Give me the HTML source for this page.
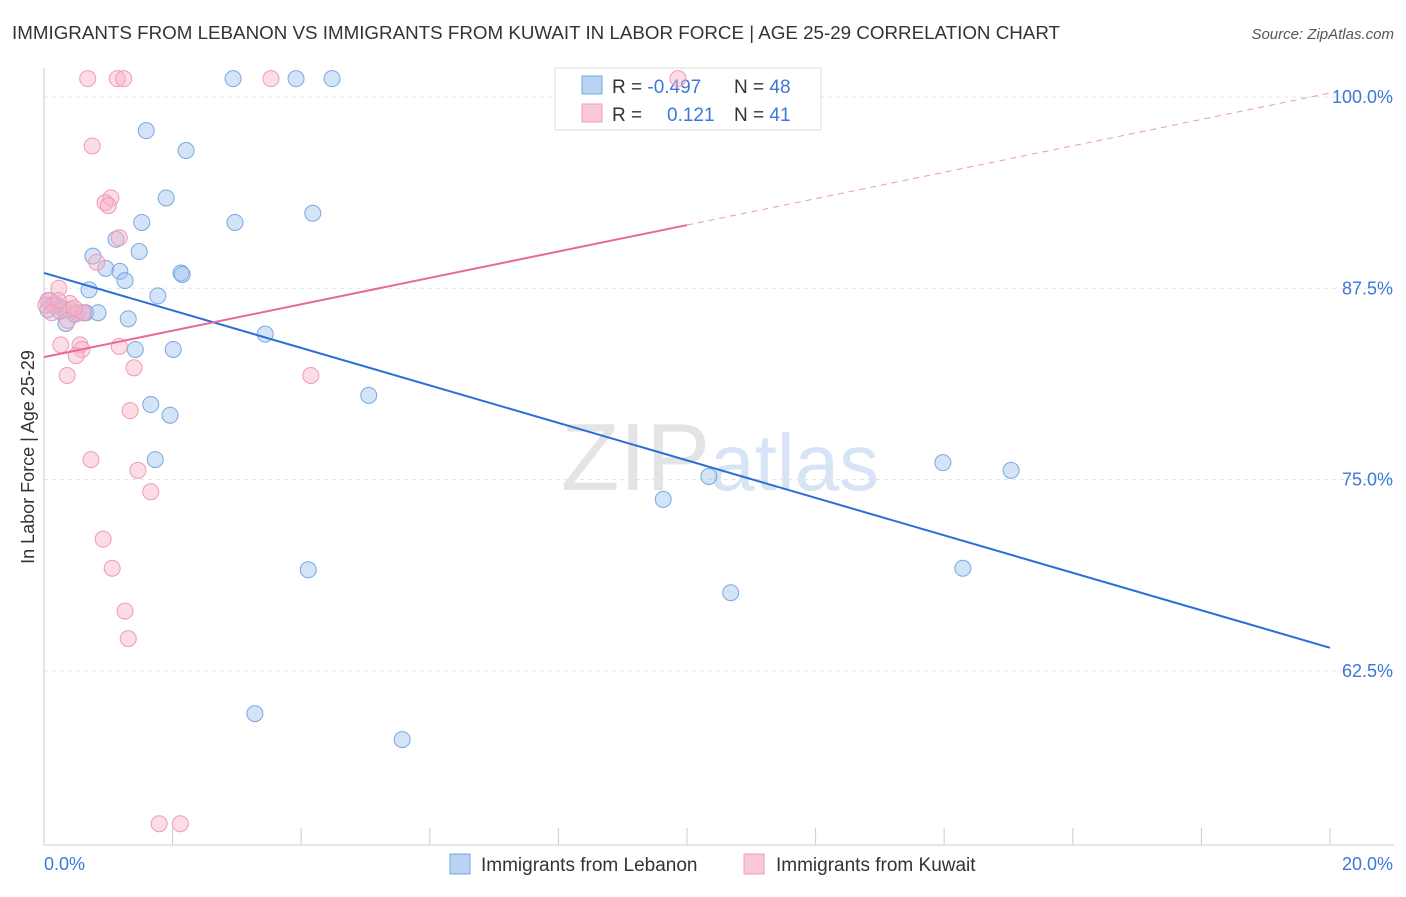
<!DOCTYPE html>
<html><head><meta charset="utf-8"><style>
body{margin:0;background:#fff;font-family:"Liberation Sans",sans-serif}
svg text{font-family:"Liberation Sans",sans-serif}
</style></head><body>
<svg id="c" width="1406" height="892">
<text x="12" y="39" font-size="18" fill="#333" textLength="1048" lengthAdjust="spacingAndGlyphs">IMMIGRANTS FROM LEBANON VS IMMIGRANTS FROM KUWAIT IN LABOR FORCE | AGE 25-29 CORRELATION CHART</text>
<text x="1394" y="39" font-size="15" fill="#555" text-anchor="end" font-style="italic">Source: ZipAtlas.com</text>
<text x="720" y="490" font-size="96" fill="#e4e4e4" text-anchor="middle" font-family="Liberation Serif">ZIP<tspan fill="#d6e4f5" font-family="Liberation Sans" font-size="80">atlas</tspan></text>
<g id="grid"></g><g id="axes"></g>
<g>
<rect x="555" y="68" width="266" height="62" fill="#fff" stroke="#ddd"/>
<rect x="582" y="76" width="20" height="18" fill="#b8d3f5" stroke="#7aa7e0"/>
<rect x="582" y="104" width="20" height="18" fill="#fbc8d8" stroke="#f09ab5"/>
<text x="612" y="93" font-size="19" fill="#333">R = <tspan fill="#3b78d8">-0.497</tspan><tspan x="734">N = </tspan><tspan fill="#3b78d8">48</tspan></text>
<text x="612" y="121" font-size="19" fill="#333">R = <tspan x="667" fill="#3b78d8">0.121</tspan><tspan x="734">N = </tspan><tspan fill="#3b78d8">41</tspan></text>
</g>
<g id="marks"></g>
<text transform="translate(34,457) rotate(-90)" font-size="18" fill="#333" text-anchor="middle">In Labor Force | Age 25-29</text>
<g>
<rect x="450" y="854" width="20" height="20" fill="#b8d3f5" stroke="#7aa7e0"/>
<text x="481" y="871" font-size="19" fill="#333">Immigrants from Lebanon</text>
<rect x="744" y="854" width="20" height="20" fill="#fbc8d8" stroke="#f09ab5"/>
<text x="776" y="871" font-size="19" fill="#333">Immigrants from Kuwait</text>
</g>
</svg>
<script>
const blueX=[2.94,3.92,4.48,1.59,2.21,1.90,1.52,2.97,4.18,1.12,0.76,1.48,0.96,1.18,1.26,2.13,2.15,0.70,1.77,0.09,0.19,0.28,0.40,0.65,0.61,0.84,0.34,1.31,3.44,1.42,2.01,5.05,1.66,1.96,1.73,9.63,10.34,13.98,15.04,4.11,14.29,10.68,3.28,5.57,0.12,0.06,0.25,0.48];
const blueY=[101.2,101.2,101.2,97.8,96.5,93.4,91.8,91.8,92.4,90.7,89.6,89.9,88.8,88.6,88.0,88.5,88.4,87.4,87.0,86.7,86.4,86.2,86.1,85.9,85.9,85.9,85.2,85.5,84.5,83.5,83.5,80.5,79.9,79.2,76.3,73.7,75.2,76.1,75.6,69.1,69.2,67.6,59.7,58.0,86.4,86.1,86.0,85.8];
const pinkX=[0.68,1.14,1.24,3.53,9.86,0.75,1.04,0.95,1.00,1.17,0.82,0.23,0.06,0.16,0.40,0.31,0.53,0.62,0.26,0.56,0.59,0.50,1.17,0.36,1.40,4.15,1.34,0.73,1.46,1.66,0.92,1.06,1.26,1.31,1.79,2.12,0.03,0.12,0.22,0.37,0.47];
const pinkY=[101.2,101.2,101.2,101.2,101.2,96.8,93.4,93.1,92.9,90.8,89.2,87.5,86.7,86.4,86.5,86.1,85.9,85.9,83.8,83.8,83.5,83.1,83.7,81.8,82.3,81.8,79.5,76.3,75.6,74.2,71.1,69.2,66.4,64.6,52.5,52.5,86.4,85.9,86.7,85.4,86.2];
const blueTrend=[88.5,64.0];
const pinkTrend=[83.0,100.26];
const pinkSolidEnd=10.0;
const yTicks=[100,87.5,75,62.5];
const yTickLabels=["100.0%","87.5%","75.0%","62.5%"];
const xTicks=[0,2,4,6,8,10,12,14,16,18,20];
const NS="http://www.w3.org/2000/svg";
const X=v=>44+v*64.3, Y=v=>97+(100-v)*15.3;
function mk(p,t,a){const e=document.createElementNS(NS,t);for(const k in a)e.setAttribute(k,a[k]);document.getElementById(p).appendChild(e);return e;}
yTicks.forEach((t,i)=>{
 let l=mk('grid','line',{x1:44,x2:1394,y1:Y(t),y2:Y(t),stroke:'#e3e3e3','stroke-dasharray':'4,4'});
 
 
 let tx=mk('axes','text',{x:1393,y:Y(t)+6,'font-size':18,fill:'#3b78d8','text-anchor':'end'});tx.textContent=yTickLabels[i];
 
 
});
let ax=mk('axes','line',{x1:44,x2:44,y1:68,y2:845,stroke:'#ccc'});


let bx=mk('axes','line',{x1:44,x2:1394,y1:845,y2:845,stroke:'#ccc'});


xTicks.forEach(t=>{let l=mk('axes','line',{x1:X(t),x2:X(t),y1:828,y2:845,stroke:'#ccc'});
 
 });
let t0=mk('axes','text',{x:44,y:870,'font-size':18,fill:'#3b78d8'});t0.textContent='0.0%';


let t1=mk('axes','text',{x:1393,y:870,'font-size':18,fill:'#3b78d8','text-anchor':'end'});t1.textContent='20.0%';


blueX.forEach((x,i)=>{let c=mk('marks','circle',{cx:X(x),cy:Y(blueY[i]),r:8,fill:'rgba(160,195,240,0.45)',stroke:'#7aa7e0','stroke-width':1});
 
 });
pinkX.forEach((x,i)=>{let c=mk('marks','circle',{cx:X(x),cy:Y(pinkY[i]),r:8,fill:'rgba(248,180,200,0.45)',stroke:'#f09ab5','stroke-width':1});
 
 });
let bl=mk('marks','line',{x1:X(0),y1:Y(blueTrend[0]),x2:X(20),y2:Y(blueTrend[1]),stroke:'#2a6fd6','stroke-width':2});


const pm=pinkTrend[0]+(pinkTrend[1]-pinkTrend[0])*pinkSolidEnd/20;
let pl=mk('marks','line',{x1:X(0),y1:Y(pinkTrend[0]),x2:X(pinkSolidEnd),y2:Y(pm),stroke:'#e76a95','stroke-width':2});


let pd=mk('marks','line',{x1:X(pinkSolidEnd),y1:Y(pm),x2:X(20),y2:Y(pinkTrend[1]),stroke:'#e99ab5','stroke-width':1,'stroke-dasharray':'6,5'});


</script>
</body></html>
